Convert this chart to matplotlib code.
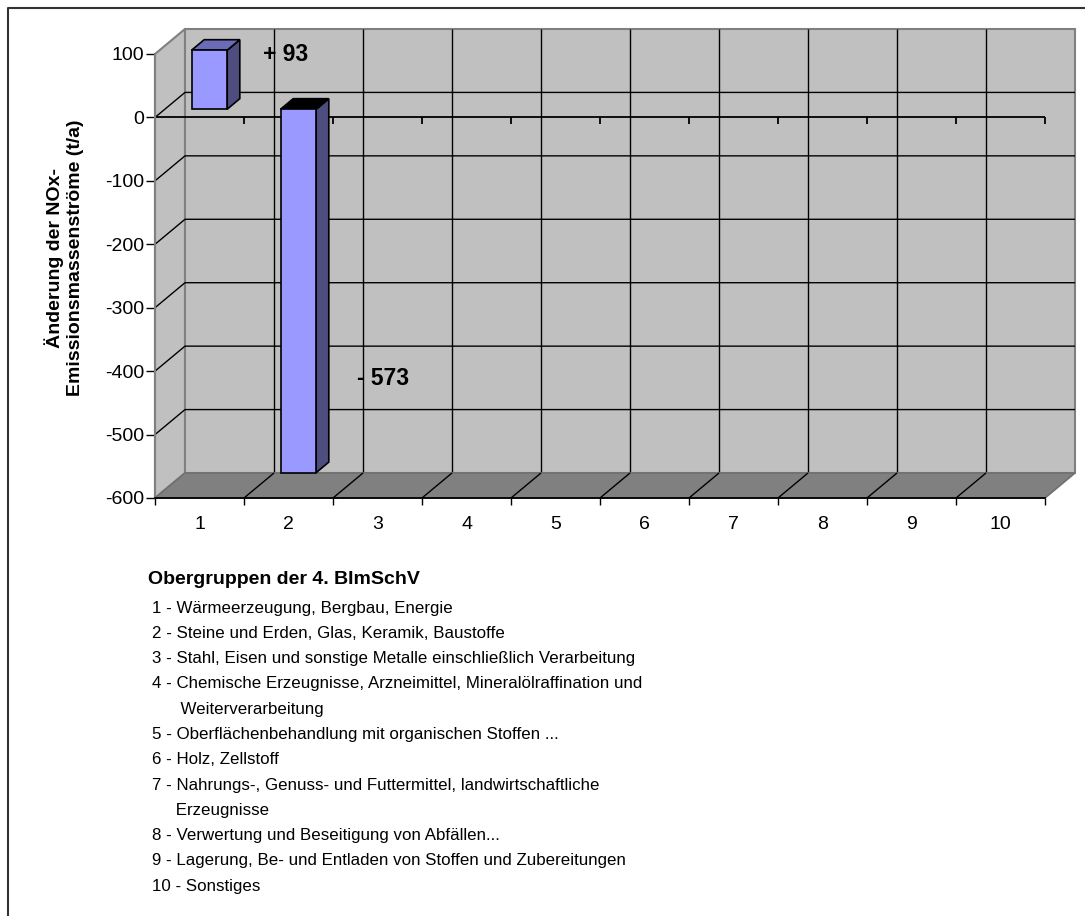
import matplotlib.pyplot as plt
from matplotlib.patches import Polygon
from matplotlib.lines import Line2D

plt.rcParams['font.family'] = ['Liberation Sans', 'DejaVu Sans']

# data
categories = [1, 2, 3, 4, 5, 6, 7, 8, 9, 10]
values = [93, -573, None, None, None, None, None, None, None, None]
yticks = [100, 0, -100, -200, -300, -400, -500, -600]
ylabel = 'Änderung der NOx-\nEmissionsmassenströme (t/a)'
legend_title = 'Obergruppen der 4. BImSchV'
legend_lines = [
    '1 - Wärmeerzeugung, Bergbau, Energie',
    '2 - Steine und Erden, Glas, Keramik, Baustoffe',
    '3 - Stahl, Eisen und sonstige Metalle einschließlich Verarbeitung',
    '4 - Chemische Erzeugnisse, Arzneimittel, Mineralölraffination und',
    '      Weiterverarbeitung',
    '5 - Oberflächenbehandlung mit organischen Stoffen ...',
    '6 - Holz, Zellstoff',
    '7 - Nahrungs-, Genuss- und Futtermittel, landwirtschaftliche',
    '     Erzeugnisse',
    '8 - Verwertung und Beseitigung von Abfällen...',
    '9 - Lagerung, Be- und Entladen von Stoffen und Zubereitungen',
    '10 - Sonstiges',
]

W, H = 1085, 916
fig = plt.figure(figsize=(W / 100, H / 100), dpi=100)
ax = fig.add_axes([155 / W, 1 - 498 / H, 890 / W, 444 / H])
ax.set_xlim(0.5, 10.5)
ax.set_ylim(-600, 100)
ax.patch.set_visible(False)

# depth of the 3d box in data units
DX = 30 / 89
DY = 25 * 700 / 444
lo, hi = yticks[-1], yticks[0]
x0, x1 = 0.5, 10.5
bounds = [x0 + i for i in range(11)]


def p(x, v, d):
    return (x + d * DX, v + d * DY)


def poly(pts, fc, ec, lw, z):
    ax.add_patch(Polygon(pts, closed=True, fc=fc, ec=ec, lw=lw, zorder=z, clip_on=False))


def line(pts, color='black', lw=1, z=2):
    ax.plot([q[0] for q in pts], [q[1] for q in pts], color=color, lw=lw, zorder=z,
            clip_on=False, solid_capstyle='butt')


# walls
poly([p(x0, lo, 0), p(x0, hi, 0), p(x0, hi, 1), p(x0, lo, 1)], '#C0C0C0', '#808080', 1.5, 1)
poly([p(x0, lo, 1), p(x1, lo, 1), p(x1, hi, 1), p(x0, hi, 1)], '#C0C0C0', '#808080', 1.5, 1)
for v in yticks[1:-1]:
    line([p(x0, v, 0), p(x0, v, 1), p(x1, v, 1)])
for b in bounds[1:-1]:
    line([p(b, lo, 1), p(b, hi, 1)])

# floor
poly([p(x0, lo, 0), p(x1, lo, 0), p(x1, lo, 1), p(x0, lo, 1)], '#808080', '#707070', 1.2, 3)
for b in bounds[1:-1]:
    line([p(b, lo, 0), p(b, lo, 1)], z=3)

# zero line with ticks
line([(x0, 0), (x1, 0)], lw=1.3, z=4)
for b in bounds[1:]:
    line([(b, 0), (b, -11)], lw=1.3, z=4)

# bars
w, d0, d1 = 0.40, 0.33, 0.75
for x, v in zip(categories, values):
    if v is None:
        continue
    l, r = x - w / 2, x + w / 2
    tv = max(v, 0)
    poly([p(r, 0, d0), p(r, 0, d1), p(r, v, d1), p(r, v, d0)], '#4D4D80', 'black', 1.2, 5)
    poly([p(l, tv, d0), p(r, tv, d0), p(r, tv, d1), p(l, tv, d1)],
         '#6B6BB8' if v > 0 else 'black', 'black', 1.2, 5)
    poly([p(l, 0, d0), p(r, 0, d0), p(r, v, d0), p(l, v, d0)], '#9999FF', 'black', 1.2, 6)

# value labels
ax.text(1.71, values[0] + 6, '+ %d' % values[0], fontsize=16.5, fontweight='bold',
        va='center', ha='left', zorder=7)
ax.text(2.77, values[1] + 161, '- %d' % abs(values[1]), fontsize=16.5, fontweight='bold',
        va='center', ha='left', zorder=7)

# axes
for s in ['top', 'right']:
    ax.spines[s].set_visible(False)
ax.spines['left'].set_color('#808080')
ax.spines['left'].set_linewidth(1.5)
ax.spines['bottom'].set_color('black')
ax.spines['bottom'].set_linewidth(1.3)
ax.spines['left'].set_zorder(8)
ax.spines['bottom'].set_zorder(8)
ax.set_yticks(yticks)
ax.set_yticklabels([str(t) for t in yticks])
ax.tick_params(axis='y', length=6.5, width=1, color='black', pad=1.5, labelsize=14)
ax.set_xticks(bounds)
ax.set_xticklabels([''] * len(bounds))
ax.set_xticks(categories, minor=True)
ax.set_xticklabels([str(c) for c in categories], minor=True)
ax.tick_params(axis='x', which='major', length=5, width=1, color='black')
ax.tick_params(axis='x', which='minor', length=0, pad=13, labelsize=14)

fig.text(64 / W, 1 - 258 / H, ylabel, rotation=90, fontsize=14, fontweight='bold',
         ha='center', va='center', linespacing=1.25)

# legend text block
fig.text(148 / W, 1 - 580 / H, legend_title, fontsize=14, fontweight='bold', va='center')
for i, t in enumerate(legend_lines):
    fig.text(152 / W, 1 - (608 + i * 25.3) / H, t, fontsize=12.2, va='center')

# frame
fig.add_artist(Line2D([8 / W, 8 / W, 1], [0, 1 - 8 / H, 1 - 8 / H], color='#333333', lw=1.5,
                      transform=fig.transFigure))

fig.savefig('out.png', dpi=100)
